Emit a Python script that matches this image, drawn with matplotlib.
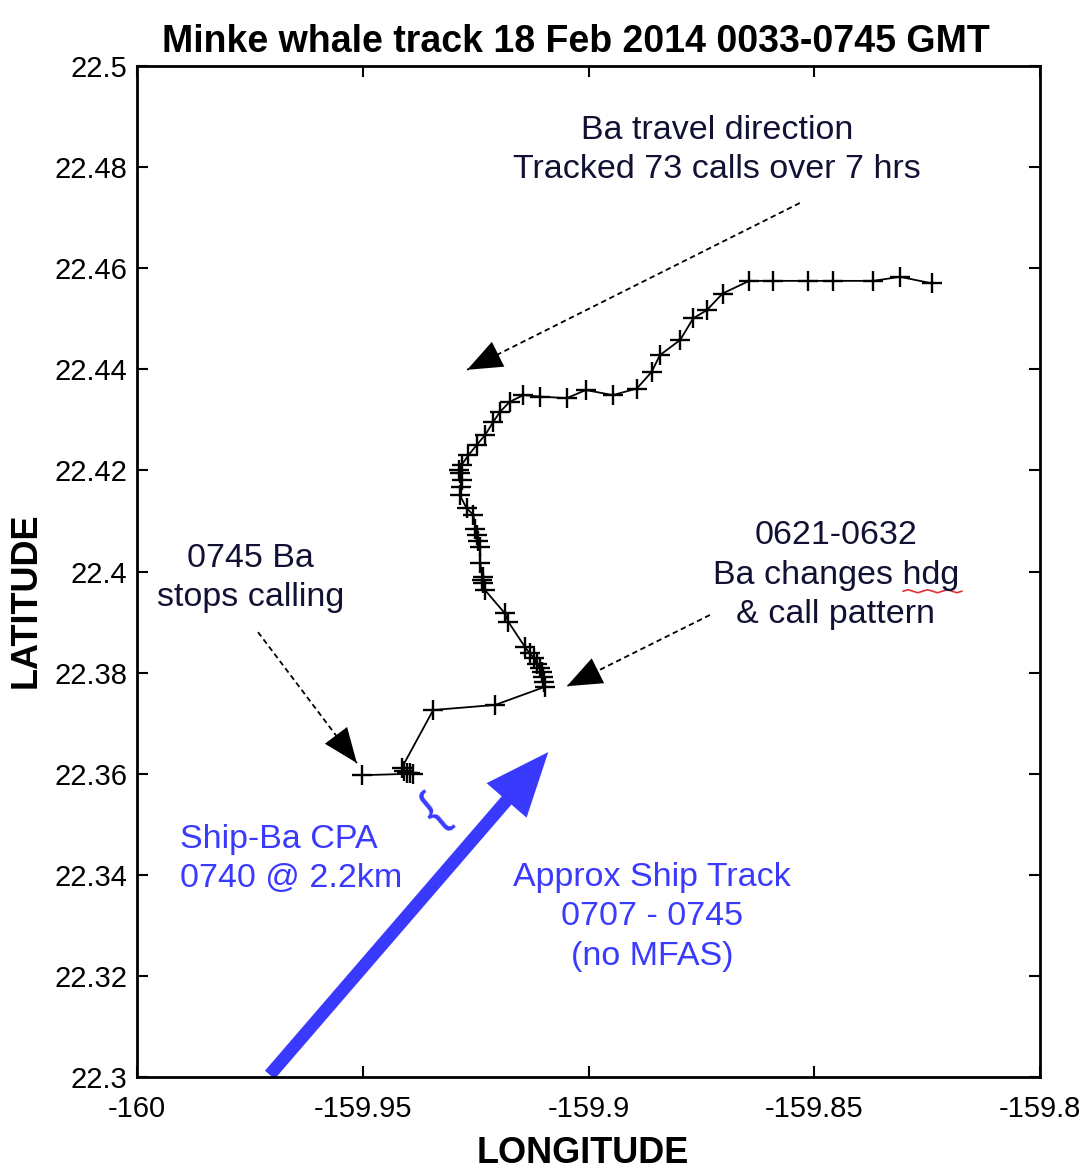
import matplotlib
matplotlib.use("Agg")
import matplotlib.pyplot as plt
import numpy as np
from matplotlib.patches import FancyArrowPatch

# Minke whale (Ba) localisations, ordered in time (NE start -> SW end)
track_lon = [-159.8239, -159.8310, -159.8369, -159.8458, -159.8513, -159.8591,
             -159.8644, -159.8703, -159.8738, -159.8768, -159.8797, -159.8842,
             -159.8860, -159.8893, -159.8946, -159.9006, -159.9048, -159.9107,
             -159.9144, -159.9174, -159.9196, -159.9211, -159.9229, -159.9248,
             -159.9266, -159.9281, -159.9287, -159.9285, -159.9281, -159.9283,
             -159.9285, -159.9270, -159.9255, -159.9251, -159.9248, -159.9244,
             -159.9240, -159.9240, -159.9233, -159.9236, -159.9233, -159.9229,
             -159.9185, -159.9178, -159.9141, -159.9130, -159.9120, -159.9115,
             -159.9108, -159.9104, -159.9100, -159.9098, -159.9096, -159.9207,
             -159.9344, -159.9414, -159.9408, -159.9403, -159.9395, -159.9388,
             -159.9502]
track_lat = [22.4570, 22.4583, 22.4575, 22.4575, 22.4575, 22.4575,
             22.4575, 22.4550, 22.4517, 22.4501, 22.4458, 22.4428,
             22.4395, 22.4362, 22.4349, 22.4359, 22.4343, 22.4346,
             22.4349, 22.4336, 22.4316, 22.4296, 22.4270, 22.4250,
             22.4230, 22.4211, 22.4200, 22.4194, 22.4181, 22.4168,
             22.4151, 22.4125, 22.4112, 22.4085, 22.4072, 22.4060,
             22.4049, 22.4016, 22.3990, 22.3983, 22.3977, 22.3963,
             22.3917, 22.3901, 22.3851, 22.3838, 22.3828, 22.3818,
             22.3810, 22.3802, 22.3792, 22.3782, 22.3772, 22.3736,
             22.3726, 22.3611, 22.3606, 22.3601, 22.3601, 22.3600,
             22.3597]

# Approximate ship track 0707-0745 (start, end)
ship_lon = [-159.9710, -159.9085]
ship_lat = [22.3000, 22.3647]

lon_ticks = [-160, -159.95, -159.9, -159.85, -159.8]
lon_labels = ["-160", "-159.95", "-159.9", "-159.85", "-159.8"]
lat_ticks = [22.3, 22.32, 22.34, 22.36, 22.38, 22.4, 22.42, 22.44, 22.46, 22.48, 22.5]
lat_labels = ["22.3", "22.32", "22.34", "22.36", "22.38", "22.4", "22.42",
              "22.44", "22.46", "22.48", "22.5"]

BLUE = "#3a3aff"
DARK = "#111133"
NARROW = ["Liberation Sans Narrow", "Liberation Sans", "DejaVu Sans"]
TEXT = ["Liberation Sans", "DejaVu Sans"]
NOTE_SIZE = 24.5
NOTE_SPACING = 1.36

fig = plt.figure(figsize=(10.86, 11.71), dpi=100)
ax = fig.add_axes([0.1262, 0.0803, 0.8314, 0.8633])
ax.set_xlim(-160, -159.8)
ax.set_ylim(22.3, 22.5)

ax.set_xticks(lon_ticks)
ax.set_xticklabels(lon_labels, family=NARROW, fontsize=21)
ax.set_yticks(lat_ticks)
ax.set_yticklabels(lat_labels, family=NARROW, fontsize=21)
ax.tick_params(axis="both", direction="in", length=8, width=1.5, top=True, right=True)
ax.tick_params(axis="x", pad=13)
ax.tick_params(axis="y", pad=7)
for s in ax.spines.values():
    s.set_linewidth(2)

ax.set_title("Minke whale track 18 Feb 2014 0033-0745 GMT", family=NARROW,
             fontweight="bold", fontsize=27, x=0.486, pad=10)
ax.set_xlabel("LONGITUDE", family=NARROW, fontweight="bold", fontsize=26)
ax.xaxis.set_label_coords(0.494, -0.058)
ax.set_ylabel("LATITUDE", family=NARROW, fontweight="bold", fontsize=26)
ax.yaxis.set_label_coords(-0.103, 0.472)

# whale track
ax.plot(track_lon, track_lat, color="black", lw=1.3, marker="+",
        markersize=15, markeredgewidth=1.7, zorder=3)

# ship track arrow
ship = FancyArrowPatch((ship_lon[0], ship_lat[0]), (ship_lon[1], ship_lat[1]),
                       arrowstyle="simple,head_length=2.3,head_width=1.9,tail_width=0.46",
                       mutation_scale=20, color=BLUE, lw=0, zorder=2)
ax.add_patch(ship)


def dashed_arrow(start, end):
    # dashed shaft plus a solid filled head
    ax.plot([start[0], end[0]], [start[1], end[1]], color="black", lw=1.3,
            linestyle=(0, (3, 2)))
    ax.annotate("", xy=end, xytext=start,
                arrowprops=dict(arrowstyle="-|>,head_length=1.25,head_width=0.5",
                                lw=0, color="black", shrinkA=0, shrinkB=0,
                                mutation_scale=20))


dashed_arrow((-159.8532, 22.4729), (-159.9269, 22.4399))
dashed_arrow((-159.8731, 22.3914), (-159.9048, 22.3773))
dashed_arrow((-159.9732, 22.3880), (-159.9513, 22.3621))

ax.text(-159.8715, 22.4834, "Ba travel direction\nTracked 73 calls over 7 hrs",
        ha="center", va="center", family=TEXT, fontsize=NOTE_SIZE,
        linespacing=NOTE_SPACING, color=DARK)
ax.text(-159.8452, 22.3993, "0621-0632\nBa changes hdg\n& call pattern",
        ha="center", va="center", family=TEXT, fontsize=NOTE_SIZE,
        linespacing=NOTE_SPACING, color=DARK)
ax.text(-159.9748, 22.3987, "0745 Ba\nstops calling",
        ha="center", va="center", family=TEXT, fontsize=NOTE_SIZE,
        linespacing=NOTE_SPACING, color=DARK)
ax.text(-159.9905, 22.3431, "Ship-Ba CPA\n0740 @ 2.2km",
        ha="left", va="center", family=TEXT, fontsize=NOTE_SIZE,
        linespacing=NOTE_SPACING, color=BLUE)
ax.text(-159.8859, 22.3317, "Approx Ship Track\n0707 - 0745\n(no MFAS)",
        ha="center", va="center", family=TEXT, fontsize=NOTE_SIZE,
        linespacing=NOTE_SPACING, color=BLUE)

# CPA brace
ax.text(-159.9342, 22.3522, "{", rotation=40, ha="center", va="center",
        family=TEXT, fontsize=37, color=BLUE)

# spell-check squiggle under "hdg"
sq_x = np.linspace(-159.8303, -159.8173, 13)
sq_y = 22.3961 + np.array([0, 1, 0, -1] * 3 + [0]) * 0.0003
ax.plot(sq_x, sq_y, color="#e03030", lw=1.2)

fig.savefig("out.png", dpi=100)
